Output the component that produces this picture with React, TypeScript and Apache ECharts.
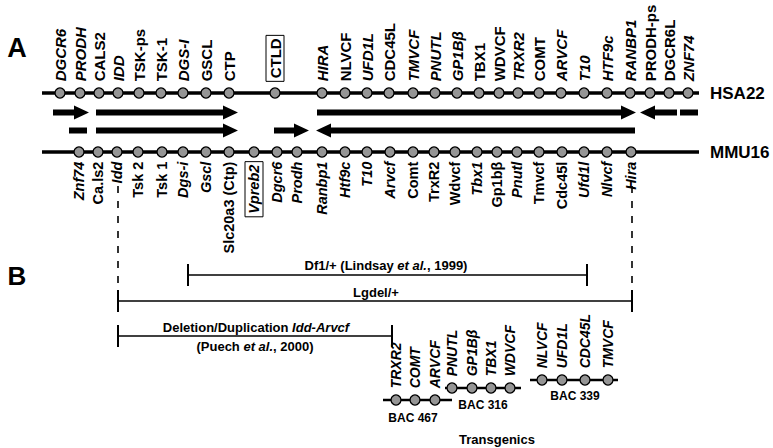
import React, { useEffect, useRef } from "react";
import * as echarts from "echarts";

// ---- Data ----
// HSA22 (human chromosome 22) genes and their positions along the map
const hsaGenes = ["DGCR6", "PRODH", "CALS2", "IDD", "TSK-ps", "TSK-1", "DGS-I", "GSCL", "CTP", "CTLD", "HIRA", "NLVCF", "UFD1L", "CDC45L", "TMVCF", "PNUTL", "GP1Bβ", "TBX1", "WDVCF", "TRXR2", "COMT", "ARVCF", "T10", "HTF9c", "RANBP1", "PRODH-ps", "DGCR6L", "ZNF74"];
const hsaPos = [60, 80, 99, 118, 139, 161, 183, 206, 229, 275, 322, 345, 367, 389, 413, 435, 457, 479, 499, 518, 539, 561, 584, 607, 630, 650, 669, 688];
const hsaUpright = ["CALS2", "TSK-ps", "TSK-1", "GSCL", "CTP", "CTLD", "NLVCF", "CDC45L", "TBX1", "WDVCF", "COMT", "PRODH-ps", "DGCR6L"];

// MMU16 (mouse chromosome 16) genes
const mmuGenes = ["Znf74", "Ca.ls2", "Idd", "Tsk 2", "Tsk 1", "Dgs-i", "Gscl", "Slc20a3 (Ctp)", "Vpreb2", "Dgcr6", "Prodh", "Ranbp1", "Htf9c", "T10", "Arvcf", "Comt", "TrxR2", "Wdvcf", "Tbx1", "Gp1bβ", "Pnutl", "Tmvcf", "Cdc45l", "Ufd1l", "Nlvcf", "Hira"];
const mmuPos = [79, 98, 117, 138, 162, 183, 206, 229, 254, 277, 297, 322, 345, 367, 390, 413, 434, 455, 477, 497, 517, 539, 562, 584, 607, 631];
const mmuUpright = ["Ca.ls2", "Tsk 2", "Tsk 1", "Slc20a3 (Ctp)", "Comt", "TrxR2", "Wdvcf", "Gp1bβ", "Tmvcf", "Cdc45l"];

const boxedGenes = ["CTLD", "Vpreb2"];

// chromosome spans
const hsaSpan = [42, 699];
const mmuSpan = [42, 699];

// syntenic block arrows: [start, end, kind] kind: 0 = right arrow, 1 = left arrow, 2 = bar
const arrowsRow1 = [[53, 89, 0], [96, 238, 0], [317, 636, 0], [640, 677, 1], [680, 698, 2]];
const arrowsRow2 = [[69, 87, 2], [96, 238, 0], [274, 309, 0], [316, 635, 1]];

// deletions (section B)
const rangeStart = [188, 118, 118];
const rangeEnd = [587, 632, 392];

// dashed guides from Idd / Hira
const guidePos = [118, 632];

// transgenic BACs
const bacNames = ["BAC 467", "BAC 316", "BAC 339"];
const bacGenes = [["TRXR2", "COMT", "ARVCF"], ["PNUTL", "GP1Bβ", "TBX1", "WDVCF"], ["NLVCF", "UFD1L", "CDC45L", "TMVCF"]];
const bacPos = [[396, 415, 435], [452, 472, 491, 510], [542, 562, 585, 608]];
const bacSpan = [[383, 452], [445, 521], [530, 618]];

// ---- Layout (pixels of the 773x448 canvas) ----
const W = 773, H = 448;
const Y_HSA = 93, Y_MMU = 152, Y_ROW1 = 112.5, Y_ROW2 = 130.5;
const rangeY = [275, 301, 336];
const guideTop = 186, guideBottom = 291;
const bacY = [400, 388, 380];
const bacLabelPos = [[413, 418], [483, 405], [575, 396]];

const FONT = "Liberation Sans, Arial, Helvetica, sans-serif";

export default function App() {
  const ref = useRef<HTMLDivElement>(null);
  useEffect(() => {
    document.body.style.margin = "0";
    const chart = echarts.init(ref.current!, null, { renderer: "svg" });

    const geneLabel = (up: boolean, size: number) => ({
      show: true,
      position: up ? "top" : "bottom",
      distance: up ? 6 : 4,
      rotate: 90,
      align: up ? "left" : "right",
      verticalAlign: "middle",
      color: "#000",
      textBorderWidth: 0,
      textBorderColor: "transparent",
      textShadowBlur: 0,
      opacity: 1,
      fontFamily: FONT,
      fontWeight: "bold",
      fontStyle: "italic",
      fontSize: size,
      formatter: (p: any) => p.data.name,
    });

    const geneItem = (name: string, x: number, y: number, upright: string[], size: number) => {
      const item: any = { name, value: [x, y] };
      const lab: any = {
        fontWeight: "bold",
        fontSize: size,
        fontFamily: FONT,
        color: "#000",
        fontStyle: upright.includes(name) ? "normal" : "italic",
      };
      if (boxedGenes.includes(name)) {
        lab.borderColor = "#000";
        lab.borderWidth = 1;
        lab.padding = [2, 3, 1, 3];
      }
      item.label = lab;
      return item;
    };

    const circleStyle = { color: "#959595", borderColor: "#000", borderWidth: 1.3, opacity: 1 };
    const lineSeries = (pts: number[][], width: number, extra: any = {}) => ({
      type: "line",
      data: pts,
      symbol: "none",
      silent: true,
      lineStyle: { color: "#000", width, ...extra },
      z: 1,
    });

    const series: any[] = [
      lineSeries([[hsaSpan[0], Y_HSA], [hsaSpan[1], Y_HSA]], 3.5),
      lineSeries([[mmuSpan[0], Y_MMU], [mmuSpan[1], Y_MMU]], 3.5),
      {
        type: "scatter",
        symbol: "circle",
        symbolSize: 10,
        itemStyle: circleStyle,
        label: geneLabel(true, 15),
        data: hsaGenes.map((g, i) => geneItem(g, hsaPos[i], Y_HSA, hsaUpright, 15)),
        silent: true,
        z: 3,
      },
      {
        type: "scatter",
        symbol: "circle",
        symbolSize: 10,
        itemStyle: circleStyle,
        label: geneLabel(false, 14.5),
        data: mmuGenes.map((g, i) => geneItem(g, mmuPos[i], Y_MMU, mmuUpright, 14.5)),
        silent: true,
        z: 3,
      },
      {
        type: "custom",
        renderItem: (params: any, api: any) => {
          const a = api.coord([api.value(0), api.value(2)]);
          const b = api.coord([api.value(1), api.value(2)]);
          const kind = api.value(3);
          const y = a[1], h = 3, hh = 7, L = 15;
          let pts: number[][];
          if (kind === 0) {
            pts = [[a[0], y - h], [b[0] - L, y - h], [b[0] - L, y - hh], [b[0], y], [b[0] - L, y + hh], [b[0] - L, y + h], [a[0], y + h]];
          } else if (kind === 1) {
            pts = [[b[0], y - h], [a[0] + L, y - h], [a[0] + L, y - hh], [a[0], y], [a[0] + L, y + hh], [a[0] + L, y + h], [b[0], y + h]];
          } else {
            pts = [[a[0], y - h], [b[0], y - h], [b[0], y + h], [a[0], y + h]];
          }
          return { type: "polygon", shape: { points: pts }, style: { fill: "#000" } };
        },
        encode: { x: [0, 1], y: 2 },
        data: [
          ...arrowsRow1.map((r) => [r[0], r[1], Y_ROW1, r[2]]),
          ...arrowsRow2.map((r) => [r[0], r[1], Y_ROW2, r[2]]),
        ],
        silent: true,
        z: 2,
      },
      {
        type: "custom",
        renderItem: (params: any, api: any) => {
          const a = api.coord([api.value(0), api.value(2)]);
          const b = api.coord([api.value(1), api.value(2)]);
          const t = 11;
          const st = { stroke: "#000", lineWidth: 1.6 };
          return {
            type: "group",
            children: [
              { type: "line", shape: { x1: a[0], y1: a[1], x2: b[0], y2: b[1] }, style: st },
              { type: "line", shape: { x1: a[0], y1: a[1] - t, x2: a[0], y2: a[1] + t }, style: { stroke: "#000", lineWidth: 2 } },
              { type: "line", shape: { x1: b[0], y1: b[1] - t, x2: b[0], y2: b[1] + t }, style: { stroke: "#000", lineWidth: 2 } },
            ],
          };
        },
        encode: { x: [0, 1], y: 2 },
        data: rangeStart.map((s, i) => [s, rangeEnd[i], rangeY[i]]),
        silent: true,
      },
      ...guidePos.map((x) => lineSeries([[x, guideTop], [x, guideBottom]], 1.6, { type: [7, 8] })),
      ...bacSpan.map((s, i) => lineSeries([[s[0], bacY[i]], [s[1], bacY[i]]], 2.5)),
      ...bacGenes.map((genes, i) => ({
        type: "scatter",
        symbol: "circle",
        symbolSize: 10,
        itemStyle: circleStyle,
        label: geneLabel(true, 14),
        data: genes.map((g, j) => geneItem(g, bacPos[i][j], bacY[i], [], 14)),
        silent: true,
        z: 3,
      })),
    ];

    const txt = (text: string, x: number, y: number, size: number, align = "center", rich?: any) => ({
      type: "text",
      x,
      y,
      style: {
        text,
        fill: "#000",
        font: `bold ${size}px ${FONT}`,
        fontFamily: FONT,
        fontWeight: "bold",
        fontSize: size,
        align,
        verticalAlign: "middle",
        rich,
      },
    });
    const richIt = (size: number) => ({
      i: { fontStyle: "italic", fontWeight: "bold", fontSize: size, fontFamily: FONT, fill: "#000" },
      n: { fontWeight: "bold", fontSize: size, fontFamily: FONT, fill: "#000" },
    });

    const graphic: any[] = [
      txt("A", 17, 48, 27),
      txt("B", 17, 276, 26),
      txt("HSA22", 710, Y_HSA, 17, "left"),
      txt("MMU16", 710, Y_MMU, 17, "left"),
      txt("{n|Df1/+ (Lindsay }{i|et al.}{n|, 1999)}", 386, 265, 13, "center", richIt(13)),
      txt("Lgdel/+", 376, 292, 13),
      txt("{n|Deletion/Duplication }{i|Idd-Arvcf}", 256, 327, 13, "center", richIt(13)),
      txt("{n|(Puech }{i|et al.}{n|, 2000)}", 255, 346, 13, "center", richIt(13)),
      ...bacNames.map((n, i) => txt(n, bacLabelPos[i][0], bacLabelPos[i][1], 12)),
      txt("Transgenics", 497, 439, 13),
    ];

    chart.setOption({
      animation: false,
      backgroundColor: "#fff",
      grid: { left: 0, right: 0, top: 0, bottom: 0, containLabel: false },
      xAxis: { type: "value", min: 0, max: W, show: false },
      yAxis: { type: "value", min: 0, max: H, inverse: true, show: false },
      series,
      graphic,
    });
    return () => chart.dispose();
  }, []);
  return <div ref={ref} style={{ width: W, height: H }} />;
}
